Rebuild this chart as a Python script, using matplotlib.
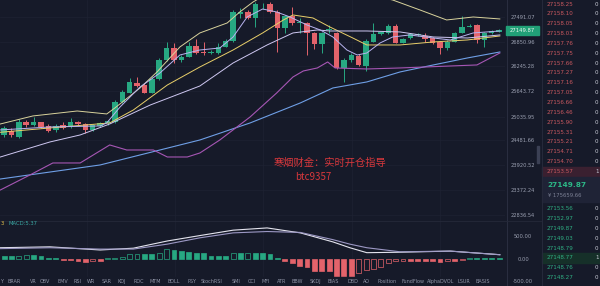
import matplotlib.pyplot as plt
from matplotlib.patches import Rectangle
from matplotlib.ticker import NullLocator

BG = '#161a29'
GREEN = '#27a882'
RED = '#e3636b'

# candles (price)
opens = [24608, 24709, 24570, 24902, 24840, 24902, 24824, 24724, 24840, 24786, 24902, 24863, 24724, 24824,
         24879, 24918, 25391, 25606, 25847, 25790, 25606, 25928, 26403, 26694, 26403, 26486, 26753, 26602,
         26569, 26569, 26736, 26879, 27569, 27612, 27457, 27794, 27820, 27629, 27200, 27517, 27345, 27345,
         27090, 26795, 27158, 27090, 26214, 26403, 26511, 26255, 26862, 27056, 27073, 27268, 26837, 26946,
         27039, 27005, 26963, 26845, 26711, 26862, 27090, 27243, 27285, 26904, 27073, 27115]
highs = [24817, 24762, 24973, 24957, 25035, 24918, 24855, 24855, 24918, 24996, 24934, 24894, 24863, 24910,
         24957, 25430, 25670, 25953, 25977, 25831, 25977, 26444, 26862, 26820, 26527, 26862, 26921, 26862,
         26652, 26820, 26921, 27672, 27715, 27672, 27890, 27863, 27890, 27672, 27543, 27759, 27457, 27371,
         27115, 27115, 27285, 27115, 26444, 26569, 26544, 26921, 27328, 27115, 27302, 27311, 26963, 27073,
         27090, 27090, 26988, 26862, 26904, 27115, 27517, 27311, 27311, 27098, 27158, 27175]
lows = [24555, 24555, 24531, 24801, 24817, 24778, 24686, 24686, 24747, 24762, 24832, 24647, 24701, 24801,
        24848, 24894, 25367, 25590, 25750, 25590, 25590, 25912, 26387, 26321, 26362, 26469, 26552, 26527,
        26544, 26544, 26719, 26854, 27457, 27431, 27243, 27689, 27603, 26610, 27073, 27285, 27073, 26527,
        26669, 26569, 27073, 26190, 25872, 26362, 26255, 26141, 26845, 27039, 27056, 26820, 26820, 26921,
        27005, 26862, 26795, 26552, 26652, 26845, 27073, 27226, 26820, 26736, 27048, 27098]
closes = [24762, 24608, 24918, 24840, 24918, 24801, 24709, 24824, 24778, 24902, 24855, 24724, 24840, 24879,
          24934, 25391, 25630, 25872, 25774, 25606, 25937, 26403, 26694, 26403, 26486, 26753, 26586, 26569,
          26602, 26736, 26879, 27629, 27629, 27457, 27820, 27811, 27629, 27200, 27517, 27328, 27362, 27090,
          26795, 27090, 27192, 26214, 26403, 26527, 26280, 26879, 27048, 27098, 27268, 26837, 26929, 27048,
          27056, 26929, 26820, 26711, 26862, 27090, 27226, 27268, 26904, 27073, 27132, 27150]

# overlay lines: (candle position, price) samples
upper_x = [-0.5, 3.9, 9.9, 13.9, 15.0, 18.4, 20.7, 23.8, 26.5, 30.2, 31.9, 33.7, 36.0, 40.1, 44.1, 49.5,
           52.6, 56.3, 59.9, 63.5, 67.1]
upper = [24863, 25051, 25168, 25098, 25240, 25718, 26108, 26728, 27082, 27337, 27620, 27881, 28143, 28250,
         28197, 28064, 27933, 27672, 27414, 27491, 27440]
mid_x = [-0.5, 6.2, 14.3, 17.5, 22.1, 26.5, 31.0, 35.0, 37.8, 39.1, 41.8, 44.1, 47.2, 49.1, 53.6, 58.1,
         62.7, 67.1]
mid = [24670, 24770, 24887, 25192, 25790, 26230, 26652, 27082, 27414, 27543, 27466, 27234, 26954, 26778,
       26778, 26854, 26904, 27005]
lower_x = [-0.5, 6.2, 10.3, 14.3, 19.8, 26.5, 31.0, 35.6, 39.1, 42.4, 44.1, 49.1, 53.6, 58.1, 62.7, 67.1]
lower = [24104, 24446, 24608, 24863, 25311, 25766, 26329, 26778, 27082, 27158, 27132, 27132, 27107, 26980,
         26954, 27031]
fast_x = [-0.5, 6.2, 13.0, 13.9, 15.7, 18.4, 21.1, 23.8, 26.5, 29.2, 31.0, 32.9, 35.0, 36.9, 38.7, 41.0,
          42.8, 44.5, 46.4, 47.8, 49.1, 50.9, 52.6, 54.9, 58.1, 60.4, 63.5, 67.1]
fast = [24724, 24793, 24817, 24887, 25263, 25742, 26083, 26527, 26652, 26702, 26980, 27491, 27698, 27620,
        27491, 27285, 27158, 26980, 26652, 26527, 26577, 26829, 26980, 27031, 26954, 26904, 27082, 27132]
blue_x = [-0.5, 13.0, 26.5, 33.3, 40.1, 44.5, 49.1, 53.6, 58.1, 62.7, 67.1]
blue = [23611, 23924, 24492, 24887, 25359, 25718, 25864, 26108, 26280, 26453, 26602]
purple_x = [-0.5, 3.5, 6.6, 10.3, 14.3, 16.6, 20.2, 22.1, 24.8, 26.5, 29.2, 33.3, 36.9, 39.1, 40.5, 42.4,
            43.8, 44.8, 49.1, 53.6, 64.0, 67.1]
purple = [23369, 23700, 23969, 23969, 24378, 24263, 24263, 24104, 24104, 24195, 24492, 25027, 25598, 25985,
          26132, 26206, 26354, 26206, 26181, 26206, 26280, 26577]

price_ticks = [27491.07, 26850.96, 26245.28, 25643.72, 25035.95, 24481.66, 23920.52, 23372.24, 22836.54]
last_price = 27149.87

# MACD pane
hist = [70, 60, 75, 90, 90, 75, 15, 15, -25, -25, -35, -75, -55, -55, 10, 15, 50, 100, 120, 110, 110, 130,
        230, 210, 180, 150, 130, 125, 65, 60, 60, 140, 130, 140, 140, 130, 105, 10, -40, -95, -155, -170,
        -260, -270, -270, -390, -390, -390, -320, -245, -230, -170, -80, -50, -40, -40, -40, -40, -40, -60,
        -40, -40, -5, 20, 10, 5, 5, 5]
macd_x = [-0.5, 6.2, 13.0, 17.5, 22.1, 26.5, 31.0, 35.6, 40.1, 44.5, 46.8, 49.1, 53.6, 60.4, 67.1]
dif = [250, 270, 200, 240, 400, 520, 640, 690, 580, 380, 250, 140, 150, 175, 95]
dea = [230, 250, 220, 220, 330, 470, 580, 610, 590, 430, 330, 250, 160, 175, 95]
macd_ticks = [500, 0, -500]

# order book
ask_prices = [27158.25, 27158.10, 27158.05, 27158.03, 27157.76, 27157.75, 27157.66, 27157.27, 27157.16,
              27157.05, 27156.66, 27156.46, 27155.90, 27155.31, 27155.21, 27154.71, 27154.70, 27153.57]
bid_prices = [27153.56, 27152.97, 27149.87, 27149.03, 27148.79, 27148.77, 27148.76, 27148.27]
last_value = '¥ 175659.66'

tabs = ['Y', 'BRAR', 'VR', 'OBV', 'EMV', 'RSI', 'WR', 'SAR', 'KDJ', 'ROC', 'MTM', 'BOLL', 'PSY', 'StochRSI',
        'SMI', 'CCI', 'MFI', 'ATR', 'BBW', 'SKDJ', 'BIAS', 'DBD', 'AO', 'Position', 'FundFlow', 'AlphaDVOL',
        'LSUR', 'BASIS']
tab_pos = [0.5, 8, 30, 40, 57, 73, 87, 102, 118, 133, 150, 168, 188, 201, 232, 248, 262, 277, 292, 310, 328,
           347, 363, 378, 402, 427, 457, 475]

W, H = 600.0, 286.0


def box(x0, y0, x1, y1):
    return [x0 / W, 1 - y1 / H, (x1 - x0) / W, (y1 - y0) / H]


fig = plt.figure(figsize=(6, 2.86), dpi=100, facecolor=BG)
n = len(opens)
idx = list(range(n))
xlim = (-0.55, 67.8)
grid_x = [11.2, 23.1, 35.0, 47.1, 59.0]

# main price pane
ax = fig.add_axes(box(0, 0, 505, 220), facecolor=BG)
ax.set_yscale('log')
ax.set_xlim(*xlim)
ax.set_ylim(22719, 27933)
cols = [GREEN if c >= o else RED for o, c in zip(opens, closes)]
ax.vlines(idx, lows, highs, colors=cols, lw=0.7, zorder=3)
ax.bar(idx, [max(abs(c - o), 18) for o, c in zip(opens, closes)],
       bottom=[min(o, c) for o, c in zip(opens, closes)], width=0.74, color=cols, lw=0, zorder=4)
ax.plot(upper_x, upper, color='#d9d39c', lw=0.7, zorder=5)
ax.plot(mid_x, mid, color='#e9cf6a', lw=0.7, zorder=5)
ax.plot(lower_x, lower, color='#cfc8f2', lw=0.7, zorder=5)
ax.plot(fast_x, fast, color='#b9b4f0', lw=0.7, zorder=5)
ax.plot(blue_x, blue, color='#6f9fe6', lw=0.8, zorder=5)
ax.plot(purple_x, purple, color='#a656b4', lw=0.8, zorder=5)
ax.yaxis.tick_right()
ax.yaxis.set_minor_locator(NullLocator())
ax.set_yticks(price_ticks)
ax.set_yticklabels([f'{v:.2f}' for v in price_ticks])
ax.set_xticks(grid_x)
ax.tick_params(axis='x', length=0, labelbottom=False)
ax.tick_params(axis='y', length=0, pad=13, labelsize=3.7, labelcolor='#9a9fb0')
for lab in ax.get_yticklabels():
    lab.set_horizontalalignment('center')
ax.grid(True, color='#1e2233', lw=0.5)
for s in ax.spines.values():
    s.set_visible(False)

# MACD pane
axm = fig.add_axes(box(0, 220, 505, 286), facecolor=BG)
axm.set_xlim(*xlim)
axm.set_ylim(-600, 866)
for i, h in enumerate(hist):
    c = GREEN if h >= 0 else RED
    hollow = i > 0 and h > hist[i - 1]
    hh = h if abs(h) >= 12 else (12 if h >= 0 else -12)
    axm.bar(i, hh, width=0.66, color=BG if hollow else c, edgecolor=c, lw=0.5, zorder=3)
axm.plot(macd_x, dif, color='#e4e4ee', lw=0.8, zorder=4)
axm.plot(macd_x, dea, color='#9c98c4', lw=0.8, zorder=4)
axm.yaxis.tick_right()
axm.set_yticks(macd_ticks)
axm.set_yticklabels([f'{v:.2f}' for v in macd_ticks])
axm.set_xticks(grid_x)
axm.tick_params(axis='x', length=0, labelbottom=False)
axm.tick_params(axis='y', length=0, pad=13, labelsize=3.7, labelcolor='#9a9fb0')
for lab in axm.get_yticklabels():
    lab.set_horizontalalignment('center')
axm.grid(True, axis='x', color='#1e2233', lw=0.5)
for s in axm.spines.values():
    s.set_visible(False)

# overlay in pixel coordinates for the chrome
ov = fig.add_axes([0, 0, 1, 1])
ov.set_xlim(0, W)
ov.set_ylim(H, 0)
ov.axis('off')
ov.patch.set_alpha(0)

ov.plot([506.5, 506.5], [0, H], color='#2a2e40', lw=0.7)
ov.plot([541.5, 541.5], [0, H], color='#262a3b', lw=0.7)
ov.plot([0, 541], [220.5, 220.5], color='#252939', lw=0.6)
ov.add_patch(Rectangle((0, 277), 505, 9, color=BG, zorder=5))
for t, x in zip(tabs, tab_pos):
    ov.text(x, 281.5, t, fontsize=3.5, color='#8f94a6', va='center', ha='left', zorder=6)

ov.text(1, 223.5, '3', fontsize=3.8, color='#e6c34a', va='center')
ov.text(8.5, 223.5, 'MACD:5.37', fontsize=3.8, color='#3aa6a2', va='center')

# last price tag
ov.add_patch(Rectangle((506, 26.2), 32.5, 8.6, color='#21a077', zorder=6))
ov.text(522.3, 30.5, f'{last_price:.2f}', fontsize=3.8, color='#eef7f2', ha='center', va='center', zorder=7)

# scroll thumb
ov.add_patch(Rectangle((537.3, 146), 2, 17, color='#3b4054'))

# order book
ov.add_patch(Rectangle((542, 166.5), 58, 9.5, color='#3a2030'))
ov.add_patch(Rectangle((542, 177), 58, 25, color='#1f2336'))
ov.add_patch(Rectangle((542, 253), 58, 9.5, color='#163029'))
for k, p in enumerate(ask_prices):
    y = 4 + 9.85 * k
    ov.text(547, y, f'{p:.2f}', fontsize=4.1, color='#c9585f', va='center')
    ov.text(595, y, '1' if k == len(ask_prices) - 1 else '0', fontsize=4.1, color='#c6c9d4', va='center')
ov.text(547, 185, f'{last_price:.2f}', fontsize=5.3, fontweight='bold', color='#2cb887', va='center')
ov.text(547.5, 195.3, last_value, fontsize=3.8, color='#7d8296', va='center')
for k, p in enumerate(bid_prices):
    y = 209 + 9.75 * k
    ov.text(547, y, f'{p:.2f}', fontsize=4.1, color='#2fae82', va='center')
    ov.text(595, y, '1' if k == 5 else '0', fontsize=4.1, color='#c6c9d4', va='center')

# watermark
wm = ['Noto Sans CJK SC', 'DejaVu Sans']
ov.text(330, 163, '寒烟财金：实时开仓指导', fontsize=7.4, color='#d8383c', ha='center', va='center', family=wm)
ov.text(313, 176.5, 'btc9357', fontsize=7.0, color='#d8383c', ha='center', va='center', family=wm)

fig.savefig('out.png', dpi=100, facecolor=BG)
